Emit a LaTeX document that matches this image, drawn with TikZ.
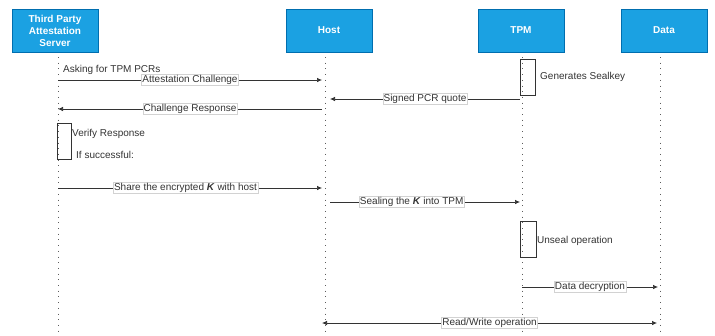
\documentclass[tikz,border=0pt]{standalone}
\usepackage{fontspec}
\setmainfont{Liberation Sans}
\usetikzlibrary{arrows.meta}
\definecolor{hdrfill}{HTML}{1BA1E2}
\definecolor{hdrline}{HTML}{006EAF}
\definecolor{ink}{HTML}{333333}
\begin{document}
\begin{tikzpicture}[x=1pt,y=-1pt,
  hdr/.style={draw=hdrline,fill=hdrfill,minimum width=86pt,minimum height=43pt,inner sep=0pt,
    text=white,font=\fontsize{10}{12}\selectfont\bfseries,align=center},
  life/.style={draw=ink!80,line width=1pt,dash pattern=on 1pt off 4.7pt},
  msg/.style={draw=ink,line width=0.7pt,-{Latex[length=5pt,width=4.5pt]}},
  msgb/.style={draw=ink,line width=0.7pt,{Latex[length=5pt,width=4.5pt]}-{Latex[length=5pt,width=4.5pt]}},
  lbl/.style={fill=white,draw=gray!35,line width=0.4pt,inner sep=0.8pt,text=ink,font=\fontsize{10}{12}\selectfont},
  note/.style={text=ink,font=\fontsize{10}{12}\selectfont,inner sep=0pt,anchor=west},
  act/.style={draw=ink,line width=0.7pt}
]
\useasboundingbox (0,0) rectangle (715,335);
\node[hdr] (tps) at (55,30.5) {Third Party\\Attestation\\Server};
\node[hdr] (host) at (329,30.5) {Host};
\node[hdr] (tpm) at (521,30.5) {TPM};
\node[hdr] (data) at (664,30.5) {Data};
% lifeline bottoms
\coordinate (tpsE) at (58,336);
\coordinate (hostE) at (325,336);
\coordinate (tpmE) at (522,336);
\coordinate (dataE) at (660,336);
\draw[life] (58,57) -- (tpsE);
\draw[life] (325,57) -- (hostE);
\draw[life] (522,57) -- (tpmE);
\draw[life] (660,57) -- (dataE);
% activation boxes
\draw[act] (520,59) rectangle (535,95);
\node[note] (gen) at (540,77) {Generates Sealkey};
\draw[act] (57,123) rectangle (71,159);
\node[note] (ver) at (72,134) {Verify Response};
\node[note] (succ) at (76,155) {If successful:};
\draw[act] (520,221) rectangle (536,257);
\node[note] (unseal) at (537,241) {Unseal operation};
% message points
\coordinate (m1a) at (58,80);   \coordinate (m1b) at (322,80);
\coordinate (m2a) at (520,99);  \coordinate (m2b) at (330,99);
\coordinate (m3a) at (322,109); \coordinate (m3b) at (58,109);
\coordinate (m4a) at (58,188);  \coordinate (m4b) at (322,188);
\coordinate (m5a) at (330,202); \coordinate (m5b) at (520,202);
\coordinate (m6a) at (522,287); \coordinate (m6b) at (658,287);
\coordinate (m7a) at (322,323); \coordinate (m7b) at (657,323);
\node[note] (ask) at (63,70) {Asking for TPM PCRs};
\draw[msg] (m1a) -- node[lbl] {Attestation Challenge} (m1b);
\draw[msg] (m2a) -- node[lbl] {Signed PCR quote} (m2b);
\draw[msg] (m3a) -- node[lbl] {Challenge Response} (m3b);
\draw[msg] (m4a) -- node[lbl,pos=0.483] {Share the encrypted \textbf{\textit{K}} with host} (m4b);
\draw[msg] (m5a) -- node[lbl,pos=0.43] {Sealing the \textbf{\textit{K}} into TPM} (m5b);
\draw[msg] (m6a) -- node[lbl] {Data decryption} (m6b);
\draw[msgb] (m7a) -- node[lbl] {Read/Write operation} (m7b);
\end{tikzpicture}
\end{document}
